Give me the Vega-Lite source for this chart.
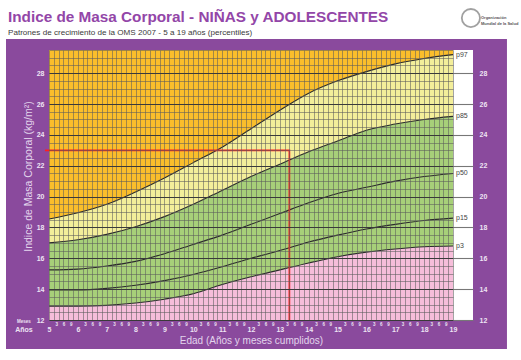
{
  "$schema": "https://vega.github.io/schema/vega-lite/v6.json",
  "width": 404,
  "height": 270,
  "autosize": "none",
  "padding": {"left": 49, "top": 50, "right": 68, "bottom": 40},
  "background": "white",
  "config": {"view": {"stroke": null}, "font": "Liberation Sans"},
  "title": {
    "text": "Indice de Masa Corporal - NIÑAS y ADOLESCENTES",
    "subtitle": "Patrones de crecimiento de la OMS 2007 - 5 a 19 años (percentiles)",
    "anchor": "start",
    "frame": "group",
    "dx": -41,
    "dy": 46,
    "offset": 14,
    "font": "Liberation Sans",
    "fontSize": 15.3,
    "fontWeight": "bold",
    "color": "#9346A8",
    "subtitleFont": "Liberation Sans",
    "subtitleFontSize": 8.1,
    "subtitleColor": "#3a3a3a",
    "subtitlePadding": 4
  },
  "datasets": {
    "curves": [
      {"age": 5, "p3": 12.9, "p15": 13.95, "p50": 15.25, "p85": 17.0, "p97": 18.55},
      {"age": 6, "p3": 12.9, "p15": 13.95, "p50": 15.3, "p85": 17.2, "p97": 18.95},
      {"age": 7, "p3": 12.95, "p15": 14.05, "p50": 15.5, "p85": 17.55, "p97": 19.5},
      {"age": 8, "p3": 13.1, "p15": 14.25, "p50": 15.8, "p85": 18.05, "p97": 20.3},
      {"age": 9, "p3": 13.35, "p15": 14.55, "p50": 16.3, "p85": 18.7, "p97": 21.2},
      {"age": 10, "p3": 13.7, "p15": 14.95, "p50": 16.9, "p85": 19.5, "p97": 22.2},
      {"age": 11, "p3": 14.3, "p15": 15.45, "p50": 17.5, "p85": 20.4, "p97": 23.2},
      {"age": 12, "p3": 14.8, "p15": 16.0, "p50": 18.2, "p85": 21.3, "p97": 24.4},
      {"age": 13, "p3": 15.25, "p15": 16.5, "p50": 18.9, "p85": 22.1, "p97": 25.6},
      {"age": 14, "p3": 15.7, "p15": 17.05, "p50": 19.6, "p85": 22.9, "p97": 26.7},
      {"age": 15, "p3": 16.1, "p15": 17.5, "p50": 20.2, "p85": 23.6, "p97": 27.5},
      {"age": 16, "p3": 16.4, "p15": 17.9, "p50": 20.6, "p85": 24.3, "p97": 28.1},
      {"age": 17, "p3": 16.6, "p15": 18.2, "p50": 21.0, "p85": 24.7, "p97": 28.6},
      {"age": 18, "p3": 16.75, "p15": 18.45, "p50": 21.3, "p85": 25.0, "p97": 28.95},
      {"age": 19, "p3": 16.8, "p15": 18.6, "p50": 21.5, "p85": 25.2, "p97": 29.2}
    ],
    "ref": [
      {"seq": 1, "age": 4.86, "bmi": 23},
      {"seq": 2, "age": 13.33, "bmi": 23},
      {"seq": 3, "age": 13.33, "bmi": 12}
    ],
    "one": [{}]
  },
  "resolve": {"axis": {"x": "independent", "y": "independent"}},
  "layer": [
    {
      "data": {"name": "one"},
      "mark": {"type": "rect", "color": "#8A4A9D", "clip": false},
      "encoding": {
        "x": {"datum": 3.51, "type": "quantitative", "scale": {"domain": [5, 19], "nice": false, "zero": false}, "axis": null},
        "x2": {"datum": 20.87},
        "y": {"datum": 30.21, "type": "quantitative", "scale": {"domain": [12, 29.5], "nice": false, "zero": false}, "axis": null},
        "y2": {"datum": 10.12}
      }
    },
    {
      "data": {"name": "one"},
      "mark": {"type": "rect", "color": "white", "clip": false},
      "encoding": {
        "x": {"datum": 19, "type": "quantitative", "scale": {"domain": [5, 19], "nice": false, "zero": false}, "axis": null},
        "x2": {"datum": 19.693},
        "y": {"datum": 29.5, "type": "quantitative", "scale": {"domain": [12, 29.5], "nice": false, "zero": false}, "axis": null},
        "y2": {"datum": 12}
      }
    },
    {
      "data": {"name": "one"},
      "mark": {"type": "rect", "color": "#FABE2B"},
      "encoding": {
        "x": {"datum": 5, "type": "quantitative", "scale": {"domain": [5, 19], "nice": false, "zero": false}, "axis": null},
        "x2": {"datum": 19},
        "y": {"datum": 29.5, "type": "quantitative", "scale": {"domain": [12, 29.5], "nice": false, "zero": false}, "axis": null},
        "y2": {"datum": 12}
      }
    },
    {
      "data": {"name": "curves"},
      "mark": {"type": "area", "color": "#F3EE9A", "interpolate": "monotone"},
      "encoding": {
        "x": {"field": "age", "type": "quantitative", "scale": {"domain": [5, 19], "nice": false, "zero": false},
          "axis": {"orient": "bottom", "values": [5,5.1667,5.3333,5.5,5.6667,5.8333,6,6.1667,6.3333,6.5,6.6667,6.8333,7,7.1667,7.3333,7.5,7.6667,7.8333,8,8.1667,8.3333,8.5,8.6667,8.8333,9,9.1667,9.3333,9.5,9.6667,9.8333,10,10.1667,10.3333,10.5,10.6667,10.8333,11,11.1667,11.3333,11.5,11.6667,11.8333,12,12.1667,12.3333,12.5,12.6667,12.8333,13,13.1667,13.3333,13.5,13.6667,13.8333,14,14.1667,14.3333,14.5,14.6667,14.8333,15,15.1667,15.3333,15.5,15.6667,15.8333,16,16.1667,16.3333,16.5,16.6667,16.8333,17,17.1667,17.3333,17.5,17.6667,17.8333,18,18.1667,18.3333,18.5,18.6667,18.8333,19],
            "grid": true, "gridColor": "#5c5c5c", "gridWidth": 0.7, "gridOpacity": 0.8, "labels": false, "ticks": false, "domain": false, "title": null, "zindex": 1}},
        "y": {"field": "p97", "type": "quantitative", "scale": {"domain": [12, 29.5], "nice": false, "zero": false},
          "axis": {"orient": "left", "values": [12,12.5,13,13.5,14,14.5,15,15.5,16,16.5,17,17.5,18,18.5,19,19.5,20,20.5,21,21.5,22,22.5,23,23.5,24,24.5,25,25.5,26,26.5,27,27.5,28,28.5,29,29.5],
            "grid": true, "gridColor": "#5c5c5c", "gridWidth": 0.7, "gridOpacity": 0.8, "labels": false, "ticks": false, "domain": false, "title": null, "zindex": 1}},
        "y2": {"datum": 12}
      }
    },
    {
      "data": {"name": "curves"},
      "mark": {"type": "area", "color": "#A7CF79", "interpolate": "monotone"},
      "encoding": {
        "x": {"field": "age", "type": "quantitative", "scale": {"domain": [5, 19], "nice": false, "zero": false},
          "axis": {"orient": "bottom", "values": [5,5.25,5.5,5.75,6,6.25,6.5,6.75,7,7.25,7.5,7.75,8,8.25,8.5,8.75,9,9.25,9.5,9.75,10,10.25,10.5,10.75,11,11.25,11.5,11.75,12,12.25,12.5,12.75,13,13.25,13.5,13.75,14,14.25,14.5,14.75,15,15.25,15.5,15.75,16,16.25,16.5,16.75,17,17.25,17.5,17.75,18,18.25,18.5,18.75,19],
            "grid": false, "ticks": false, "domain": false, "zindex": 1,
            "labelExpr": "datum.value % 1 == 0 ? format(datum.value, 'd') : format(round((datum.value % 1) * 12), 'd')",
            "labelFontSize": {"condition": {"test": "datum.value % 1 == 0", "value": 7}, "value": 4.5},
            "labelBaseline": {"condition": {"test": "datum.value % 1 == 0", "value": "top"}, "value": "alphabetic"},
            "labelPadding": 5,
            "labelFontWeight": "bold",
            "labelColor": "#EDE3F3",
            "labelOverlap": false,
            "labelFlush": false,
            "title": "Edad (Años y meses cumplidos)",
            "titleFontSize": 10,
            "titleFontWeight": "normal",
            "titleColor": "#E2D4EC",
            "titlePadding": 3}},
        "y": {"field": "p85", "type": "quantitative", "scale": {"domain": [12, 29.5], "nice": false, "zero": false},
          "axis": {"orient": "left", "values": [12,14,16,18,20,22,24,26,28],
            "grid": true, "gridColor": "#3a3a3a", "gridWidth": 1.1, "ticks": false, "domain": false, "zindex": 1,
            "labelFontSize": 7, "labelFontWeight": "bold", "labelColor": "#EDE3F3", "labelPadding": 5,
            "title": "Indice de Masa Corporal (kg/m²)",
            "titleFontSize": 10.5, "titleFontWeight": "normal", "titleColor": "#E2D4EC",
            "titleX": -21, "titleY": 126, "titleAngle": 270, "titleAlign": "center", "titleBaseline": "middle"}},
        "y2": {"datum": 12}
      }
    },
    {
      "data": {"name": "curves"},
      "mark": {"type": "area", "color": "#F6BEDA", "interpolate": "monotone"},
      "encoding": {
        "x": {"field": "age", "type": "quantitative", "scale": {"domain": [5, 19], "nice": false, "zero": false}, "axis": null},
        "y": {"field": "p3", "type": "quantitative", "scale": {"domain": [12, 29.5], "nice": false, "zero": false},
          "axis": {"orient": "right", "offset": 20, "values": [12,14,16,18,20,22,24,26,28],
            "grid": false, "domain": false, "ticks": true, "tickSize": -20, "tickColor": "#777777", "tickWidth": 1.1, "zindex": 1,
            "labelFontSize": 7, "labelFontWeight": "bold", "labelColor": "#EDE3F3", "labelPadding": 26, "title": null}},
        "y2": {"datum": 12}
      }
    },
    {
      "data": {"name": "curves"},
      "transform": [{"fold": ["p3", "p15", "p50", "p85", "p97"], "as": ["pct", "bmi"]}],
      "mark": {"type": "line", "color": "#2b2b2b", "strokeWidth": 1.1, "interpolate": "monotone"},
      "encoding": {
        "x": {"field": "age", "type": "quantitative", "scale": {"domain": [5, 19], "nice": false, "zero": false}, "axis": null},
        "y": {"field": "bmi", "type": "quantitative", "scale": {"domain": [12, 29.5], "nice": false, "zero": false}, "axis": null},
        "detail": {"field": "pct"}
      }
    },
    {
      "data": {"name": "ref"},
      "mark": {"type": "line", "color": "#FF1E1E", "strokeWidth": 1.7, "clip": false},
      "encoding": {
        "x": {"field": "age", "type": "quantitative", "scale": {"domain": [5, 19], "nice": false, "zero": false}, "axis": null},
        "y": {"field": "bmi", "type": "quantitative", "scale": {"domain": [12, 29.5], "nice": false, "zero": false}, "axis": null},
        "order": {"field": "seq"}
      }
    },
    {
      "data": {"name": "curves"},
      "transform": [
        {"filter": "datum.age == 19"},
        {"fold": ["p3", "p15", "p50", "p85", "p97"], "as": ["pct", "bmi"]}
      ],
      "mark": {"type": "text", "align": "left", "baseline": "middle", "dx": 3, "fontSize": 7, "color": "#444444", "clip": false},
      "encoding": {
        "x": {"field": "age", "type": "quantitative", "scale": {"domain": [5, 19], "nice": false, "zero": false}, "axis": null},
        "y": {"field": "bmi", "type": "quantitative", "scale": {"domain": [12, 29.5], "nice": false, "zero": false}, "axis": null},
        "text": {"field": "pct"}
      }
    },
    {
      "data": {"name": "one"},
      "mark": {"type": "text", "align": "center", "baseline": "middle", "fontSize": 4.5, "fontWeight": "bold", "color": "#EDE3F3", "clip": false},
      "encoding": {
        "x": {"datum": 4.13, "type": "quantitative", "scale": {"domain": [5, 19], "nice": false, "zero": false}, "axis": null},
        "y": {"datum": 11.86, "type": "quantitative", "scale": {"domain": [12, 29.5], "nice": false, "zero": false}, "axis": null},
        "text": {"value": "Meses"}
      }
    },
    {
      "data": {"name": "one"},
      "mark": {"type": "text", "align": "center", "baseline": "middle", "fontSize": 7, "fontWeight": "bold", "color": "#EDE3F3", "clip": false},
      "encoding": {
        "x": {"datum": 4.13, "type": "quantitative", "scale": {"domain": [5, 19], "nice": false, "zero": false}, "axis": null},
        "y": {"datum": 11.35, "type": "quantitative", "scale": {"domain": [12, 29.5], "nice": false, "zero": false}, "axis": null},
        "text": {"value": "Años"}
      }
    },
    {
      "data": {"name": "one"},
      "mark": {"type": "point", "shape": "circle", "size": 330, "filled": false, "color": "#7a7a7a", "strokeWidth": 1.8, "clip": false},
      "encoding": {
        "x": {"datum": 19.62, "type": "quantitative", "scale": {"domain": [5, 19], "nice": false, "zero": false}, "axis": null},
        "y": {"datum": 31.57, "type": "quantitative", "scale": {"domain": [12, 29.5], "nice": false, "zero": false}, "axis": null}
      }
    },
    {
      "data": {"name": "one"},
      "mark": {"type": "text", "align": "left", "baseline": "middle", "fontSize": 4, "fontWeight": "bold", "color": "#555555", "lineHeight": 6, "clip": false},
      "encoding": {
        "x": {"datum": 19.97, "type": "quantitative", "scale": {"domain": [5, 19], "nice": false, "zero": false}, "axis": null},
        "y": {"datum": 31.55, "type": "quantitative", "scale": {"domain": [12, 29.5], "nice": false, "zero": false}, "axis": null},
        "text": {"value": ["Organización", "Mundial de la Salud"]}
      }
    }
  ]
}
